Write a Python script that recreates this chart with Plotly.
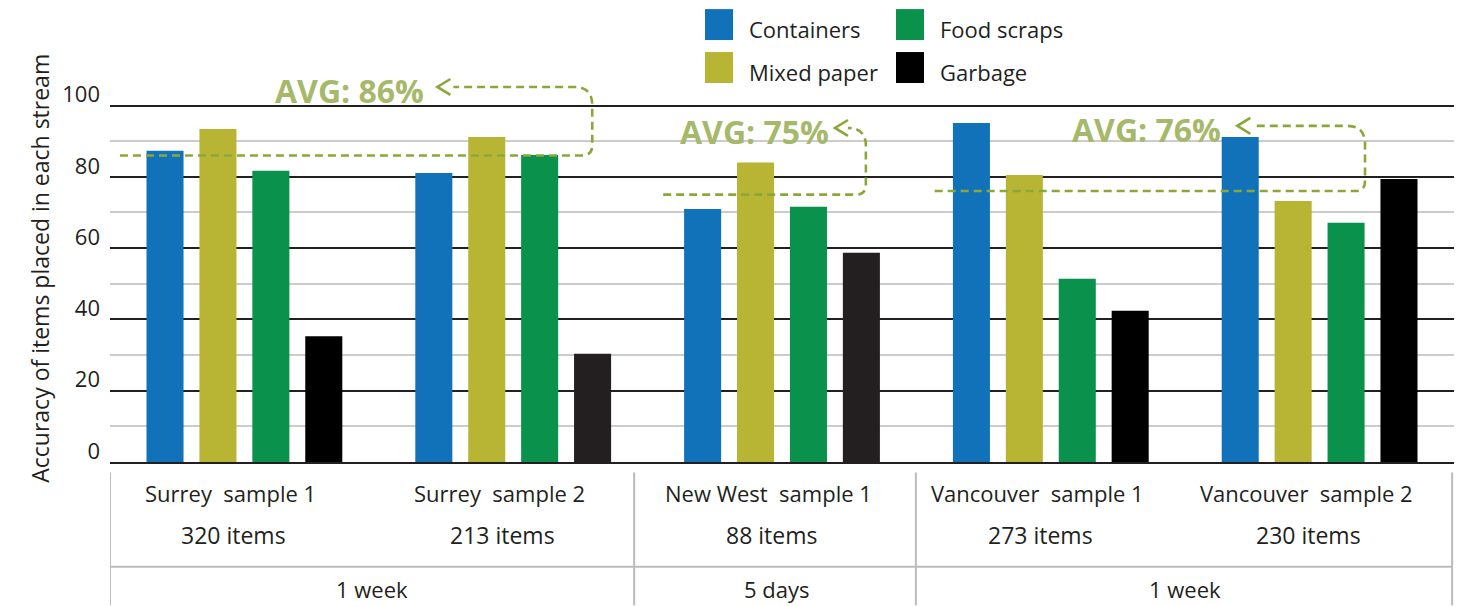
import plotly.graph_objects as go

# ---- data -------------------------------------------------------------
samples = ["Surrey  sample 1", "Surrey  sample 2", "New West  sample 1",
           "Vancouver  sample 1", "Vancouver  sample 2"]
item_counts = ["320 items", "213 items", "88 items", "273 items", "230 items"]
durations = ["1 week", "5 days", "1 week"]

containers = [87.3, 81.1, 71.0, 95.1, 91.2]
mixed_paper = [93.4, 91.2, 84.0, 80.5, 73.2]
food_scraps = [81.7, 86.1, 71.6, 51.4, 67.1]
garbage = [35.3, 30.4, 58.7, 42.4, 79.4]

avg_labels = ["AVG: 86%", "AVG: 75%", "AVG: 76%"]
avg_values = [86, 75, 76]

y_ticks = [0, 20, 40, 60, 80, 100]
y_minor = [10, 30, 50, 70, 90]

# ---- style ------------------------------------------------------------
FONT = "Open Sans"
INK = "#231f20"
BLUE = "#1172ba"
OLIVE = "#b8b534"
GREEN = "#0a914b"
GARBAGE_COLORS = ["#000000", "#231f20", "#231f20", "#000000", "#000000"]
AVG_LINE = "#8aa83a"
AVG_TEXT = "#a6b96b"
TABLE_LINE = "#bbbbbb"

W, H = 1466, 606
ML, MR, MT, MB = 110, 12, 77, 143.5
Y_MAX = 108
PW = W - ML - MR
PH = H - MT - MB
X_UNIT = PW / 5.0          # pixels per category
Y_UNIT = PH / Y_MAX        # pixels per percent

def px(dx):
    """horizontal pixel distance -> category units"""
    return dx / X_UNIT

def py(dy):
    """vertical pixel distance -> percent units"""
    return dy / Y_UNIT

def paper(xp, yp):
    """absolute pixel -> paper coordinates"""
    return (xp - ML) / PW, (H - MB - yp) / PH

x_pos = list(range(len(samples)))

fig = go.Figure()
series = [("Containers", containers, BLUE),
          ("Mixed paper", mixed_paper, OLIVE),
          ("Food scraps", food_scraps, GREEN),
          ("Garbage", garbage, GARBAGE_COLORS)]
for name, vals, col in series:
    fig.add_bar(x=x_pos, y=vals, name=name, marker_color=col,
                marker_line_width=0, showlegend=False, hoverinfo="y+name")

shapes = []
annotations = []

# ---- average connectors ---------------------------------------------------
# (start x, turn x, top y, arrow x, label x) in category / percent units
connectors = [
    (-0.463, 1.294, 105.2, 0.718, 0.390),
    (1.558, 2.312, 93.7, 2.197, 1.896),
    (2.568, 4.169, 94.3, 3.694, 3.356),
]
for (x0, xt, ytop, xa, xl), yv, lab in zip(connectors, avg_values, avg_labels):
    rx_top, ry_top = px(18), py(18)
    rx_bot, ry_bot = px(10), py(10)
    path = (f"M{x0},{yv} L{xt - rx_bot},{yv} "
            f"Q{xt},{yv} {xt},{yv + ry_bot} "
            f"L{xt},{ytop - ry_top} "
            f"Q{xt},{ytop} {xt - rx_top},{ytop} "
            f"L{xa + px(16)},{ytop}")
    shapes.append(dict(type="path", path=path, xref="x", yref="y",
                       line=dict(color=AVG_LINE, width=2.6, dash="8px,5px"),
                       layer="above"))
    arrow = (f"M{xa + px(13)},{ytop + py(8)} L{xa},{ytop} "
             f"L{xa + px(13)},{ytop - py(8)}")
    shapes.append(dict(type="path", path=arrow, xref="x", yref="y",
                       line=dict(color=AVG_LINE, width=2.6), layer="above"))
    annotations.append(dict(x=xl, y=ytop - py(4), xref="x", yref="y",
                            text=f"<b>{lab}</b>", showarrow=False,
                            xanchor="center", yanchor="middle",
                            font=dict(family=FONT, size=32, color=AVG_TEXT)))

# ---- table under the chart -------------------------------------------------
_, y_top_t = paper(0, 473)
_, y_mid_t = paper(0, 567.5)
_, y_bot_t = paper(0, H)
for xb in [-0.5, 1.45, 2.498, 4.493]:
    shapes.append(dict(type="line", xref="x", yref="paper", x0=xb, x1=xb,
                       y0=y_top_t, y1=y_bot_t,
                       line=dict(color=TABLE_LINE, width=2)))
shapes.append(dict(type="line", xref="x", yref="paper", x0=-0.5, x1=4.493,
                   y0=y_mid_t, y1=y_mid_t,
                   line=dict(color=TABLE_LINE, width=2)))

_, y_r1 = paper(0, 494)
_, y_r2 = paper(0, 536)
_, y_r3 = paper(0, 590)
for i, (s, n) in enumerate(zip(samples, item_counts)):
    annotations.append(dict(x=i - 0.05, y=y_r1, xref="x", yref="paper",
                            text=s, showarrow=False, yanchor="middle",
                            font=dict(family=FONT, size=22, color=INK)))
    annotations.append(dict(x=i - 0.04, y=y_r2, xref="x", yref="paper",
                            text=n, showarrow=False, yanchor="middle",
                            font=dict(family=FONT, size=23, color=INK)))
for xc, d in zip([0.475, 1.98, 3.5], durations):
    annotations.append(dict(x=xc, y=y_r3, xref="x", yref="paper",
                            text=d, showarrow=False, yanchor="middle",
                            font=dict(family=FONT, size=22, color=INK)))

# ---- legend ---------------------------------------------------------------
legend_items = [("Containers", BLUE, 705, 9), ("Mixed paper", OLIVE, 705, 52),
                ("Food scraps", GREEN, 896, 9), ("Garbage", "#000000", 896, 52)]
for name, col, lx, ly in legend_items:
    x0, y1 = paper(lx, ly)
    x1, y0 = paper(lx + 28, ly + 31)
    shapes.append(dict(type="rect", xref="paper", yref="paper",
                       x0=x0, x1=x1, y0=y0, y1=y1,
                       fillcolor=col, line=dict(width=0)))
    tx, ty = paper(lx + 42, ly + 20)
    annotations.append(dict(x=tx, y=ty, xref="paper", yref="paper",
                            text=name, showarrow=False, xanchor="left",
                            yanchor="middle",
                            font=dict(family=FONT, size=22, color=INK)))

# ---- y axis title ----------------------------------------------------------
tx, ty = paper(40, 269)
annotations.append(dict(x=tx, y=ty, xref="paper", yref="paper",
                        text="Accuracy of items placed in each stream",
                        textangle=-90, showarrow=False,
                        xanchor="center", yanchor="middle",
                        font=dict(family=FONT, size=23, color=INK)))

fig.update_layout(
    width=W, height=H,
    margin=dict(l=ML, r=MR, t=MT, b=MB, pad=0),
    paper_bgcolor="white", plot_bgcolor="white",
    barmode="group", bargap=0.2125, bargroupgap=0.30,
    font=dict(family=FONT, color=INK),
    shapes=shapes, annotations=annotations,
    showlegend=False,
)
fig.update_xaxes(range=[-0.5, 4.5], showticklabels=False, showgrid=False,
                 zeroline=False, showline=True, linecolor=INK, linewidth=2,
                 ticks="", fixedrange=True)
fig.update_yaxes(range=[0, Y_MAX], tickvals=y_ticks, ticks="",
                 showgrid=True, gridcolor=INK, gridwidth=2, zeroline=False,
                 minor=dict(tickvals=y_minor, showgrid=True,
                            gridcolor="#cccccc", gridwidth=1.5),
                 tickfont=dict(family=FONT, size=22, color=INK),
                 ticklabelshift=-11, ticklabelstandoff=9, fixedrange=True)

fig.write_html("out.html")
